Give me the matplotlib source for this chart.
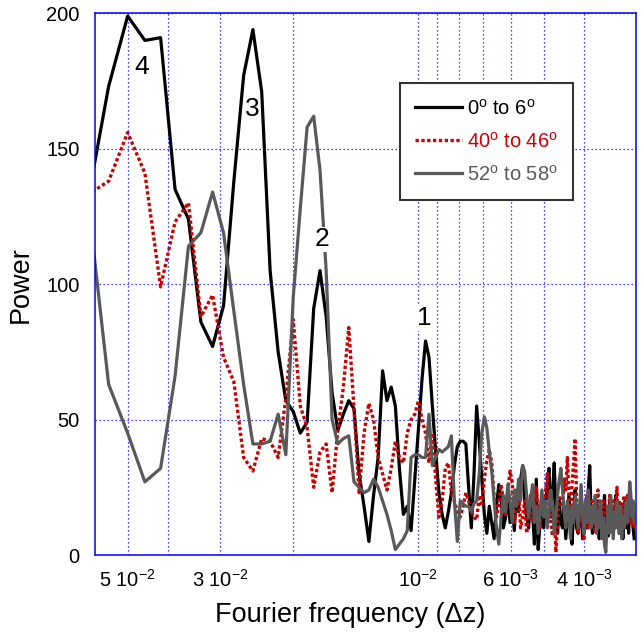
import matplotlib
matplotlib.use("Agg")
import matplotlib.pyplot as plt
import numpy as np

plt.rcParams["font.family"] = "Liberation Sans"
plt.rcParams["mathtext.fontset"] = "custom"
plt.rcParams["mathtext.rm"] = "Liberation Sans"
plt.rcParams["mathtext.it"] = "Liberation Sans:italic"

# periods (in Δz) of the Fourier components, frequency = 1/period
period = np.arange(16, 331, 2)

power_0_6 = [130, 173, 199, 190, 191, 135, 124, 86, 77, 92,
             138, 177, 194, 171, 105, 75, 57, 53, 45, 49,
             91, 105, 88, 60, 46, 52, 57, 54, 30, 18,
             5, 22, 36, 68, 57, 62, 55, 32, 15, 18,
             9, 28, 47, 65, 79, 73, 55, 38, 23, 15,
             10, 16, 23, 33, 40, 42, 42, 41, 25, 10,
             30, 55, 42,
             28, 15, 8, 18, 12, 6, 18, 26, 20, 10,
             14, 22, 12, 18, 9, 24, 16, 28, 33, 20,
             14, 10, 22, 16, 4, 28, 2, 12, 18, 10,
             18, 26, 32, 14, 22, 34, 16, 8, 20, 12,
             10, 18, 6, 14, 22, 12, 4, 16, 24, 10,
             8, 14, 20, 6, 12, 18, 10, 24, 33, 14,
             8, 16, 10, 20, 12, 6, 14, 18, 9, 22,
             10, 16, 7, 20, 12, 18, 9, 14, 22, 11,
             16, 8, 19, 12, 6, 14, 20, 10, 17, 8,
             20, 14, 18, 10, 6]

power_40_46 = [133, 138, 156, 141, 99, 123, 130, 88, 96, 73,
               64, 36, 31, 43, 42, 36, 58, 87, 55, 47,
               25, 38, 41, 23, 46, 62, 84, 54, 23, 45,
               56, 50, 36, 30, 24, 32, 42, 36, 34, 45,
               50, 52, 57, 50, 45, 34, 45, 28, 14, 20,
               32, 34, 23, 20, 16, 14, 18, 23, 20, 16,
               14, 13, 22,
               18, 28, 35, 39, 34, 22, 14, 18, 26, 20,
               15, 24, 31, 27, 12, 18, 25, 10, 14, 20,
               8, 16, 22, 12, 18, 25, 14, 10, 20, 16,
               24, 30, 18, 12, 7, 16, 1, 12, 22, 18,
               18, 28, 24, 36, 22, 14, 26, 34, 43, 20,
               8, 14, 20, 12, 6, 16, 22, 10, 18, 12,
               20, 14, 8, 18, 24, 12, 16, 9, 20, 14,
               10, 18, 13, 22, 15, 9, 20, 12, 18, 25,
               14, 20, 10, 18, 13, 22, 16, 11, 22, 15,
               18, 12, 20, 10, 14]

power_52_58 = [133, 63, 45, 27, 32, 66, 114, 119, 134, 119,
               90, 63, 41, 41, 42, 52, 37, 95, 128, 158,
               162, 142, 105, 50, 41, 43, 44, 27, 25, 23,
               24, 28, 25, 20, 15, 9, 2, 4, 6, 9,
               36, 37, 37, 36, 36, 52, 33, 36, 39, 38,
               39, 40, 44, 20, 5, 20, 19, 18, 18, 16,
               19, 20, 30,
               45, 51, 47, 38, 31, 20, 10, 4, 14, 22,
               16, 26, 20, 12, 24, 18, 28, 20, 33, 31,
               22, 14, 20, 26, 12, 18, 8, 16, 24, 14,
               20, 10, 16, 24, 18, 8, 14, 22, 28, 32,
               24, 16, 10, 20, 14, 6, 18, 12, 22, 16,
               10, 18, 26, 14, 8, 20, 12, 24, 16, 10,
               18, 12, 22, 8, 16, 10, 20, 6, 14, 4,
               1, 12, 18, 8, 22, 14, 6, 16, 10, 20,
               12, 8, 18, 6, 14, 10, 16, 20, 12, 18,
               27, 22, 14, 20, 12]

labels = ["0$^\\mathrm{o}$ to 6$^\\mathrm{o}$",
          "40$^\\mathrm{o}$ to 46$^\\mathrm{o}$",
          "52$^\\mathrm{o}$ to 58$^\\mathrm{o}$"]
colors = ["black", "#cc0000", "#595959"]

major_ticks = [0.05, 0.03, 0.01, 0.006, 0.004]
major_labels = ["5 10$^{-2}$", "3 10$^{-2}$", "10$^{-2}$", "6 10$^{-3}$", "4 10$^{-3}$"]
minor_ticks = [0.04, 0.02, 0.009, 0.008, 0.007, 0.005]

peak_labels = ["4", "3", "2", "1"]
peak_freq = [0.0463, 0.0251, 0.01704, 0.00968]
peak_power = [180, 164.5, 116.5, 87.6]

freq = 1.0 / period

fig = plt.figure(figsize=(6.43, 6.34), dpi=100)
ax = fig.add_axes([0.1473, 0.1246, 0.8418, 0.8544])

ax.plot(freq, power_0_6, color=colors[0], lw=2.3, label=labels[0])
ax.plot(freq, power_40_46, color=colors[1], lw=2.4, linestyle=(0, (1.0, 0.75)),
        dash_capstyle="butt", label=labels[1])
ax.plot(freq, power_52_58, color=colors[2], lw=2.3, label=labels[2])

for t, fx, py in zip(peak_labels, peak_freq, peak_power):
    ax.text(fx, py, t, fontsize=19, ha="center", va="center", zorder=5,
            bbox=dict(facecolor="white", edgecolor="none", pad=0.5))

ax.set_xscale("log")
ax.set_xlim(0.06, 0.003)
ax.set_ylim(0, 200)
ax.set_yticks([0, 50, 100, 150, 200])

ax.set_xticks(major_ticks)
ax.set_xticklabels(major_labels)
ax.set_xticks(minor_ticks, minor=True)
ax.xaxis.set_minor_formatter(matplotlib.ticker.NullFormatter())

ax.tick_params(which="both", length=0, labelsize=14.5)
ax.tick_params(axis="x", pad=10)
ax.tick_params(axis="y", pad=11)
ax.grid(True, which="both", axis="x", color="blue", lw=0.9, linestyle=(0, (1, 2.2)))
ax.grid(True, which="major", axis="y", color="blue", lw=0.9, linestyle=(0, (1, 2.2)))
for s in ax.spines.values():
    s.set_color("blue")
    s.set_linewidth(1.1)

ax.set_xlabel("Fourier frequency (Δz)", fontsize=19.5)
ax.set_ylabel("Power", fontsize=19.5)
ax.xaxis.set_label_coords(0.472, -0.086)
ax.yaxis.set_label_coords(-0.112, 0.5)

leg = ax.legend(loc="upper left", bbox_to_anchor=(0.564, 0.871), borderaxespad=0,
                fontsize=14.5, handlelength=2.35, handletextpad=0.25,
                borderpad=0.75, labelspacing=0.65, fancybox=False, framealpha=1)
leg.get_frame().set_edgecolor("#333333")
leg.get_frame().set_linewidth(1.5)
for txt, c in zip(leg.get_texts(), colors):
    txt.set_color(c)

fig.savefig("out.png", dpi=100)
